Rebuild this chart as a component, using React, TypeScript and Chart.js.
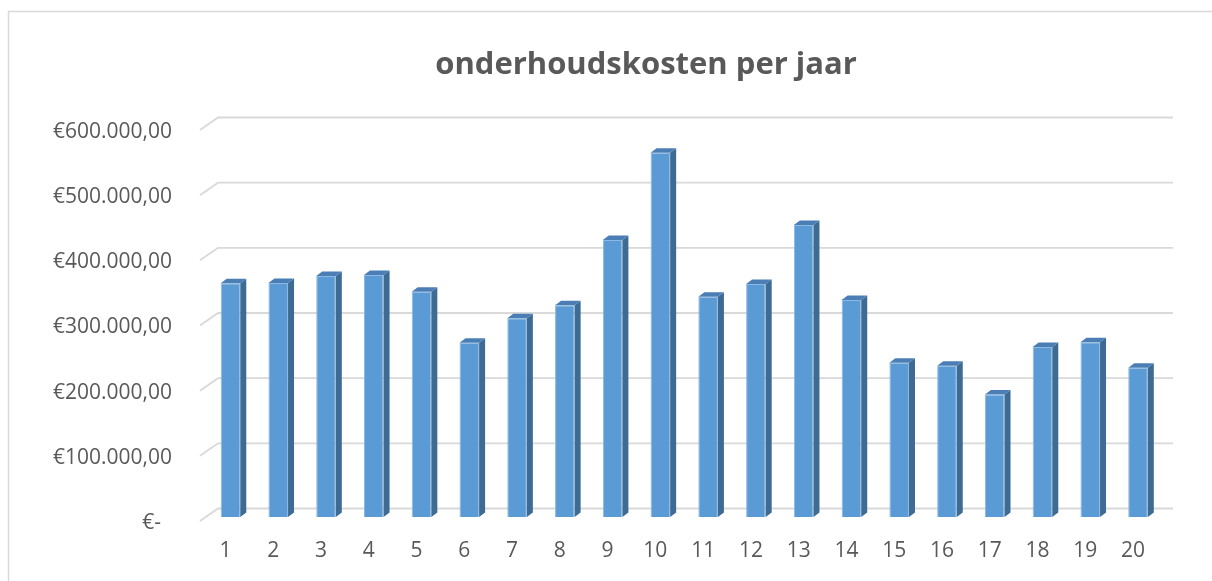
import React, { useEffect, useRef } from "react";
import { Chart, registerables } from "chart.js";

Chart.register(...registerables);

const years = ["1", "2", "3", "4", "5", "6", "7", "8", "9", "10", "11", "12", "13", "14", "15", "16", "17", "18", "19", "20"];
const costs = [358600, 359000, 369800, 371300, 345700, 267500, 305000, 325000, 425000, 559000, 338000, 357500, 448000, 333000, 236800, 232000, 188000, 261000, 268000, 229000];
const yMin = 0;
const yMax = 600000;
const yStep = 100000;
const title = "onderhoudskosten per jaar";

const FRONT = "#5B9BD5";
const SIDE = "#3D6B94";
const TOP = "#4A7EB5";
const GRID = "#D9D9D9";
const TEXT = "#595959";
const DX = 6;
const DY = 4.5;
const FONT = "'Open Sans', sans-serif";

function euro(v: number): string {
  if (v === 0) return "€-  ";
  return "€" + String(v).replace(/\B(?=(\d{3})+(?!\d))/g, ".") + ",00";
}

const framePlugin = {
  id: "frame",
  beforeDraw(chart: any) {
    const ctx = chart.ctx;
    ctx.save();
    ctx.fillStyle = "#ffffff";
    ctx.fillRect(0, 0, chart.width, chart.height);
    ctx.strokeStyle = GRID;
    ctx.lineWidth = 1.5;
    ctx.strokeRect(8.5, 11.5, chart.width + 50, chart.height + 50);
    ctx.fillStyle = TEXT;
    ctx.font = "bold 31px " + FONT;
    ctx.textAlign = "center";
    ctx.textBaseline = "alphabetic";
    ctx.fillText(title, 646, 74);
    ctx.restore();
  },
};

const gridPlugin = {
  id: "grid3d",
  beforeDatasetsDraw(chart: any) {
    const ctx = chart.ctx;
    const ys = chart.scales.y;
    const area = chart.chartArea;
    ctx.save();
    ctx.strokeStyle = GRID;
    ctx.lineWidth = 1.8;
    for (const t of ys.ticks) {
      const p = ys.getPixelForValue(t.value);
      ctx.beginPath();
      ctx.moveTo(area.left - 6.6, p + 4);
      ctx.lineTo(area.left + 11.4, p - 8.5);
      ctx.lineTo(area.right + 11.1, p - 8.5);
      ctx.stroke();
    }
    ctx.restore();
  },
};

const barsPlugin = {
  id: "bars3d",
  afterDatasetsDraw(chart: any) {
    const ctx = chart.ctx;
    const meta = chart.getDatasetMeta(0);
    ctx.save();
    for (const el of meta.data) {
      const { x, y, base, width } = el.getProps(["x", "y", "base", "width"], true);
      const l = x - width / 2;
      const r = x + width / 2;
      ctx.fillStyle = SIDE;
      ctx.beginPath();
      ctx.moveTo(r, y);
      ctx.lineTo(r + DX, y - DY);
      ctx.lineTo(r + DX, base - DY);
      ctx.lineTo(r, base);
      ctx.closePath();
      ctx.fill();
      ctx.fillStyle = TOP;
      ctx.beginPath();
      ctx.moveTo(l, y);
      ctx.lineTo(l + DX, y - DY);
      ctx.lineTo(r + DX, y - DY);
      ctx.lineTo(r, y);
      ctx.closePath();
      ctx.fill();
    }
    ctx.restore();
  },
};

export default function App() {
  const ref = useRef<HTMLCanvasElement | null>(null);
  useEffect(() => {
    if (!ref.current) return;
    const chart = new Chart(ref.current, {
      type: "bar",
      data: {
        labels: years,
        datasets: [
          {
            data: costs,
            backgroundColor: FRONT,
            borderColor: "#8DB8E2",
            borderWidth: 1,
            barPercentage: 0.41,
            categoryPercentage: 1,
          },
        ],
      },
      options: {
        responsive: false,
        animation: false,
        devicePixelRatio: 1,
        layout: { padding: { left: 0, right: 50.1, top: 126, bottom: 0 } },
        plugins: {
          legend: { display: false },
          tooltip: { enabled: false },
          title: { display: false },
        },
        scales: {
          x: {
            grid: { display: false, drawTicks: false },
            border: { display: false },
            afterFit: (s: any) => {
              s.height = 64;
            },
            ticks: {
              color: TEXT,
              font: { family: FONT, size: 21 },
              padding: 21,
              labelOffset: -5,
              maxRotation: 0,
            },
          },
          y: {
            min: yMin,
            max: yMax,
            grid: { display: false, drawTicks: false },
            border: { display: false },
            afterFit: (s: any) => {
              s.width = 206.6;
            },
            ticks: {
              stepSize: yStep,
              color: TEXT,
              font: { family: FONT, size: 21 },
              padding: 34.6,
              labelOffset: 6,
              callback: (v: any) => euro(Number(v)),
            },
          },
        },
      },
      plugins: [framePlugin, gridPlugin, barsPlugin],
    });
    return () => chart.destroy();
  }, []);
  return (
    <div style={{ position: "absolute", left: 0, top: 0, width: 1212, height: 581 }}>
      <canvas ref={ref} width={1212} height={581} style={{ display: "block" }} />
    </div>
  );
}
